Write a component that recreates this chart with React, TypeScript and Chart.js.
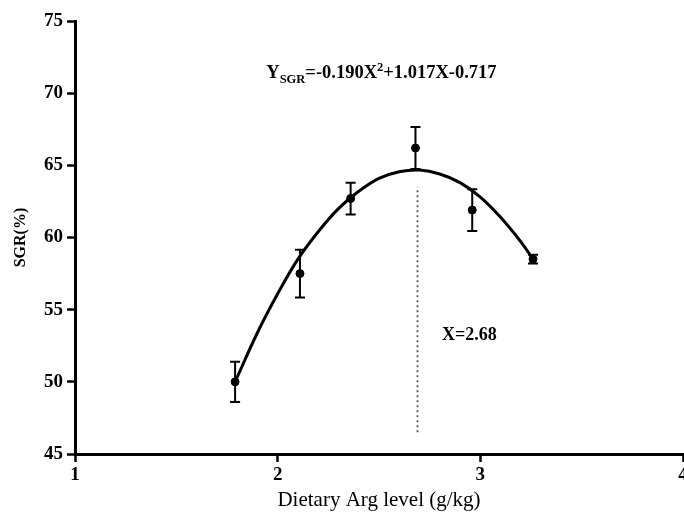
import React, { useEffect, useRef } from 'react';
import { Chart, registerables } from 'chart.js';

Chart.register(...registerables);

const argLevels = [1.79, 2.11, 2.36, 2.68, 2.96, 3.26];
const sgrMeans = [50.0, 57.5, 62.7, 66.2, 61.9, 58.5];
const sgrErrors = [1.4, 1.65, 1.1, 1.45, 1.45, 0.3];

// Fitted curve, sampled from the figure
const fitX = [1.79, 1.9, 2.0, 2.1, 2.2, 2.3, 2.4, 2.5, 2.6, 2.7, 2.8, 2.9, 3.0, 3.1, 3.2, 3.26];
const fitY = [50.0, 53.4, 56.1, 58.5, 60.4, 62.0, 63.2, 64.1, 64.56, 64.67, 64.4, 63.8, 62.8, 61.4, 59.7, 58.5];

// Optimum marker (dotted line)
const optimumX = [2.69, 2.69];
const optimumY = [46.5, 63.5];

// Ticks
const xTicks = [1, 2, 3, 4];
const yTicks = [45, 50, 55, 60, 65, 70, 75];

const SERIF = '"Liberation Serif", "DejaVu Serif", serif';

const errorBarPlugin = {
  id: 'errorBars',
  afterDatasetsDraw(chart: any) {
    const { ctx, scales } = chart;
    const x = scales.x;
    const y = scales.y;
    ctx.save();
    ctx.strokeStyle = '#000';
    ctx.lineWidth = 2;
    argLevels.forEach((v, i) => {
      const px = x.getPixelForValue(v);
      const top = y.getPixelForValue(sgrMeans[i] + sgrErrors[i]);
      const bot = y.getPixelForValue(sgrMeans[i] - sgrErrors[i]);
      ctx.beginPath();
      ctx.moveTo(px, top);
      ctx.lineTo(px, bot);
      ctx.moveTo(px - 5, top);
      ctx.lineTo(px + 5, top);
      ctx.moveTo(px - 5, bot);
      ctx.lineTo(px + 5, bot);
      ctx.stroke();
    });
    ctx.restore();
  },
};

const textPlugin = {
  id: 'annotText',
  afterDraw(chart: any) {
    const { ctx, scales } = chart;
    const x = scales.x;
    const y = scales.y;
    ctx.save();
    ctx.fillStyle = '#000';
    ctx.textBaseline = 'alphabetic';
    ctx.textAlign = 'left';
    // Equation
    const main = `bold 18.5px ${SERIF}`;
    const small = `bold 12.5px ${SERIF}`;
    const parts: [string, string, number][] = [
      ['Y', main, 0],
      ['SGR', small, 5],
      ['=-0.190X', main, 0],
      ['2', small, -7],
      ['+1.017X-0.717', main, 0],
    ];
    let total = 0;
    parts.forEach(([t, f]) => {
      ctx.font = f;
      total += ctx.measureText(t).width;
    });
    let cx = x.getPixelForValue(2.512) - total / 2;
    const by = y.getPixelForValue(71.06);
    parts.forEach(([t, f, dy]) => {
      ctx.font = f;
      ctx.fillText(t, cx, by + dy);
      cx += ctx.measureText(t).width;
    });
    // X = 2.68 label
    ctx.font = `bold 18px ${SERIF}`;
    ctx.textAlign = 'center';
    ctx.textBaseline = 'middle';
    ctx.fillText('X=2.68', x.getPixelForValue(2.946), y.getPixelForValue(53.25));
    ctx.restore();
  },
};

export default function App() {
  const ref = useRef<HTMLCanvasElement>(null);

  useEffect(() => {
    if (!ref.current) return;
    const chart = new Chart(ref.current, {
      type: 'scatter',
      data: {
        datasets: [
          {
            type: 'line',
            label: 'fit',
            data: fitX.map((v, i) => ({ x: v, y: fitY[i] })),
            borderColor: '#000',
            borderWidth: 3,
            pointRadius: 0,
            fill: false,
            tension: 0.4,
          } as any,
          {
            type: 'line',
            label: 'optimum',
            data: optimumX.map((v, i) => ({ x: v, y: optimumY[i] })),
            borderColor: '#555',
            borderWidth: 1.8,
            borderDash: [2, 3],
            pointRadius: 0,
            fill: false,
          } as any,
          {
            type: 'scatter',
            label: 'SGR',
            data: argLevels.map((v, i) => ({ x: v, y: sgrMeans[i] })),
            backgroundColor: '#000',
            borderColor: '#000',
            pointRadius: 4,
          },
        ],
      },
      options: {
        animation: false,
        responsive: false,
        events: [],
        layout: { autoPadding: false, padding: { top: 21, right: 1, left: 0, bottom: 0 } },
        plugins: { legend: { display: false }, tooltip: { enabled: false } },
        scales: {
          x: {
            type: 'linear',
            min: 1,
            max: 4,
            afterBuildTicks: (s: any) => {
              s.ticks = xTicks.map((v) => ({ value: v }));
            },
            afterFit: (s: any) => {
              s.height = 60;
              s.paddingLeft = 0;
              s.paddingRight = 0;
            },
            grid: {
              drawOnChartArea: false,
              drawTicks: true,
              tickLength: 8,
              tickWidth: 2.5,
              color: '#000',
            },
            border: { display: true, width: 3, color: '#000' },
            ticks: {
              autoSkip: false,
              maxRotation: 0,
              padding: 2,
              color: '#000',
              font: { family: SERIF, size: 19, weight: 'bold' },
            },
            title: {
              display: true,
              text: 'Dietary Arg level (g/kg)',
              color: '#000',
              font: { family: SERIF, size: 21, weight: 'normal' },
              padding: { top: 0, bottom: 1 },
            },
          },
          y: {
            type: 'linear',
            min: 45,
            max: 75,
            afterBuildTicks: (s: any) => {
              s.ticks = yTicks.map((v) => ({ value: v }));
            },
            afterFit: (s: any) => {
              s.width = 75;
              s.paddingTop = 0;
              s.paddingBottom = 0;
            },
            grid: {
              drawOnChartArea: false,
              drawTicks: true,
              tickLength: 8,
              tickWidth: 2.5,
              color: '#000',
            },
            border: { display: true, width: 3, color: '#000' },
            ticks: {
              autoSkip: false,
              padding: 4,
              color: '#000',
              font: { family: SERIF, size: 19, weight: 'bold' },
            },
            title: {
              display: true,
              text: 'SGR(%)',
              color: '#000',
              font: { family: SERIF, size: 16, weight: 'bold' },
              padding: { top: 11, bottom: 0 },
            },
          },
        },
      } as any,
      plugins: [errorBarPlugin, textPlugin],
    });
    return () => chart.destroy();
  }, []);

  return (
    <div style={{ position: 'fixed', left: 0, top: 0, width: 684, height: 514, background: '#fff' }}>
      <canvas ref={ref} width={684} height={514} style={{ display: 'block' }} />
    </div>
  );
}
